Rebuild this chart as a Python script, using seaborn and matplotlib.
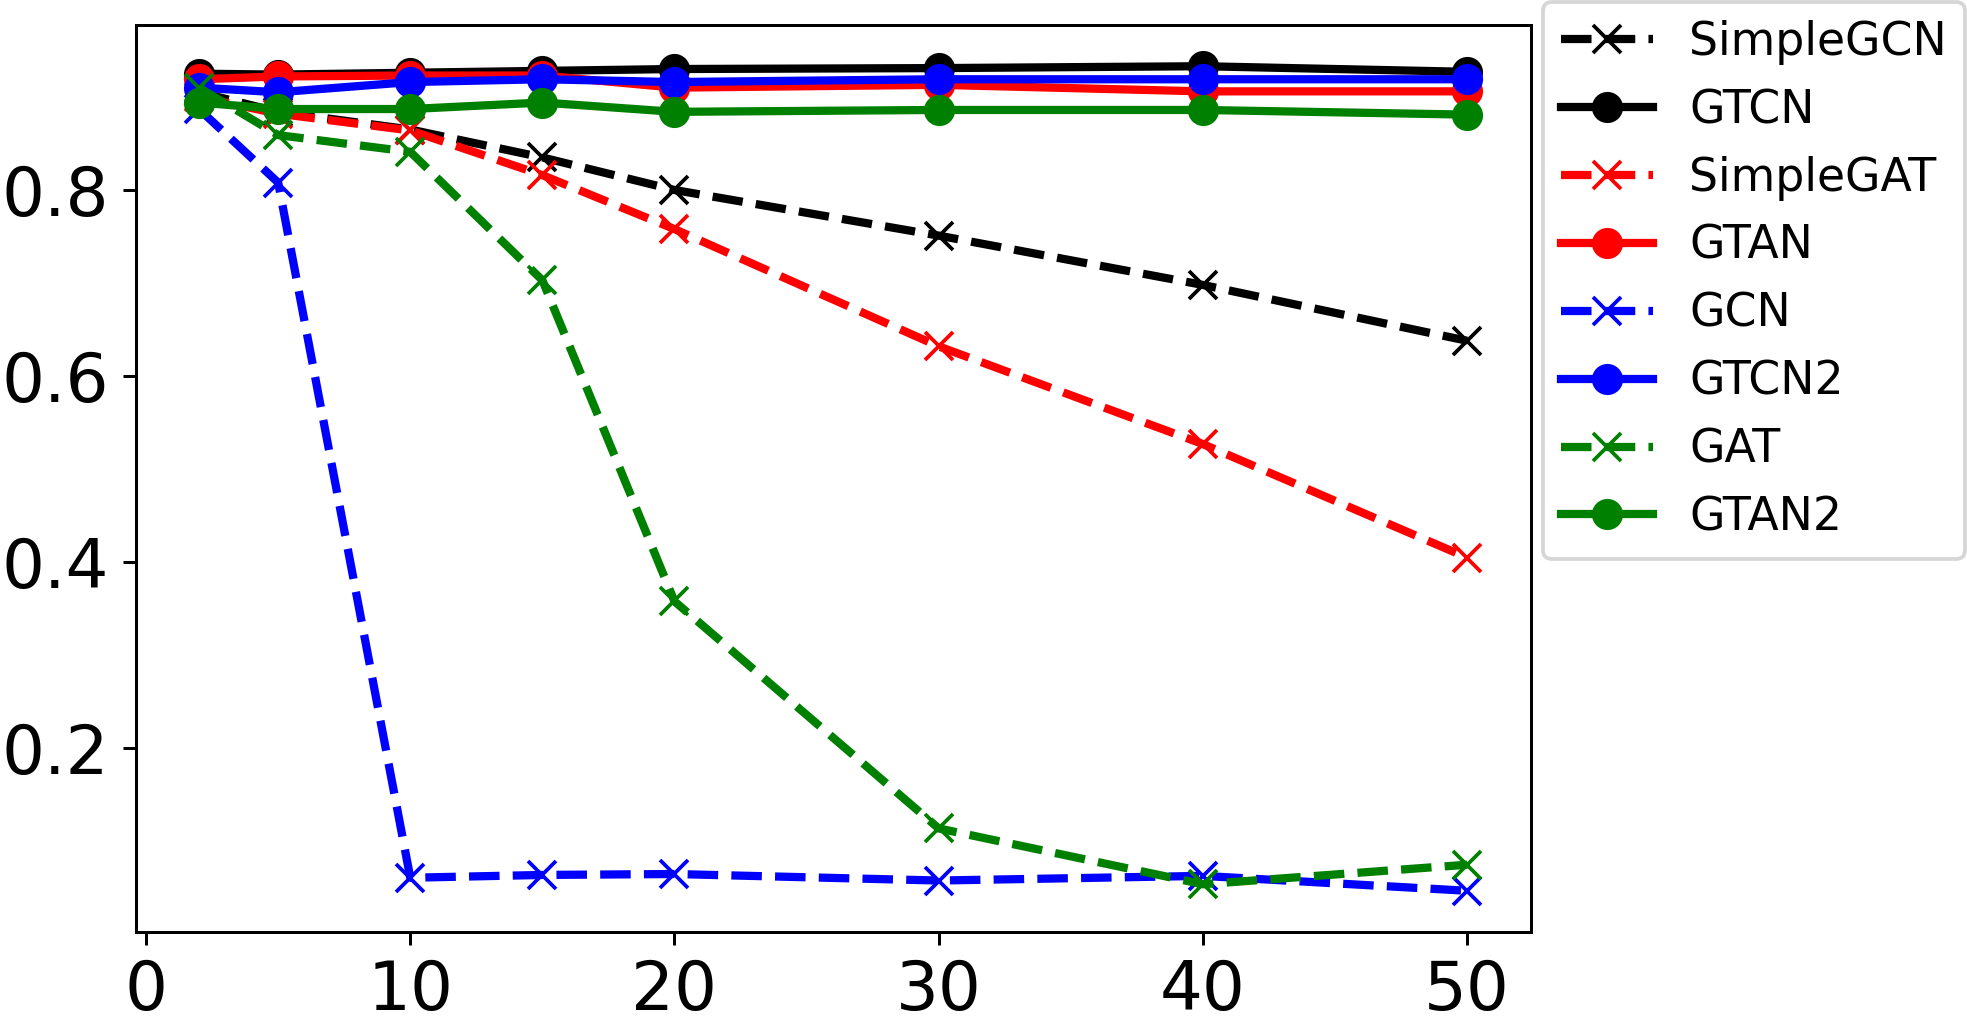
import matplotlib
matplotlib.use("Agg")
import matplotlib.pyplot as plt
import seaborn as sns
import pandas as pd

x_vals = [2, 5, 10, 15, 20, 30, 40, 50]

simple_gcn = [0.905, 0.884, 0.865, 0.835, 0.800, 0.751, 0.698, 0.638]
gtcn = [0.925, 0.924, 0.926, 0.928, 0.930, 0.931, 0.933, 0.927]
simple_gat = [0.900, 0.882, 0.864, 0.816, 0.758, 0.632, 0.527, 0.405]
gtan = [0.919, 0.922, 0.923, 0.923, 0.910, 0.913, 0.906, 0.906]
gcn = [0.887, 0.808, 0.061, 0.064, 0.065, 0.058, 0.063, 0.047]
gtcn2 = [0.910, 0.905, 0.916, 0.919, 0.916, 0.919, 0.919, 0.919]
gat = [0.910, 0.859, 0.841, 0.703, 0.358, 0.114, 0.054, 0.075]
gtan2 = [0.894, 0.887, 0.887, 0.894, 0.884, 0.886, 0.886, 0.881]

names = ["SimpleGCN", "GTCN", "SimpleGAT", "GTAN", "GCN", "GTCN2", "GAT", "GTAN2"]
series = [simple_gcn, gtcn, simple_gat, gtan, gcn, gtcn2, gat, gtan2]
colors = ["black", "black", "red", "red", "blue", "blue", "green", "green"]

DPI = 270
W, H = 1967, 1026
fig = plt.figure(figsize=(W / DPI, H / DPI), dpi=DPI)
ax = fig.add_axes([135.5 / W, 1 - 932 / H, (1530.5 - 135.5) / W, (932 - 25) / H])

for name, vals, col in zip(names, series, colors):
    df = pd.DataFrame({"x": x_vals, "y": vals})
    dashed = name in ("SimpleGCN", "SimpleGAT", "GCN", "GAT")
    sns.lineplot(data=df, x="x", y="y", ax=ax, color=col, label=name,
                 linestyle="--" if dashed else "-",
                 marker="x" if dashed else "o",
                 markersize=7.5,
                 markeredgewidth=1.0 if dashed else 0.8,
                 markeredgecolor=col,
                 linewidth=2.2)

ax.set_xlabel("")
ax.set_ylabel("")
ax.set_xticks([0, 10, 20, 30, 40, 50])
ax.set_yticks([0.2, 0.4, 0.6, 0.8])
ax.tick_params(labelsize=18)

ax.get_legend().remove()
h, l = ax.get_legend_handles_labels()
fig.legend(h, l, loc="upper left", bbox_to_anchor=(1543 / W, 1 - 2 / H),
           borderaxespad=0, fontsize=12.2, frameon=True)

fig.savefig("out.png", dpi=DPI)
